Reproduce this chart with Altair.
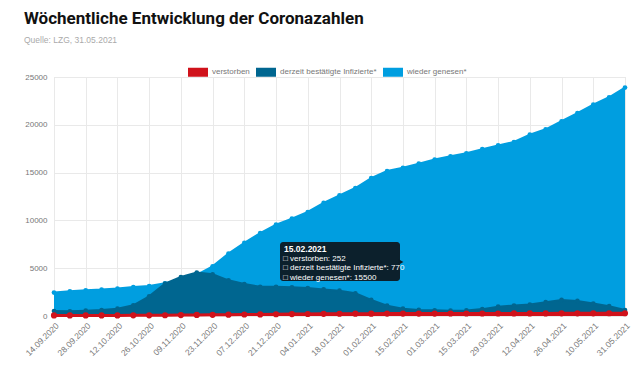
import altair as alt
import pandas as pd

dates = ["14.09.2020", "21.09.2020", "28.09.2020", "05.10.2020", "12.10.2020", "19.10.2020",
         "26.10.2020", "02.11.2020", "09.11.2020", "16.11.2020", "23.11.2020", "30.11.2020",
         "07.12.2020", "14.12.2020", "21.12.2020", "28.12.2020", "04.01.2021", "11.01.2021",
         "18.01.2021", "25.01.2021", "01.02.2021", "08.02.2021", "15.02.2021", "22.02.2021",
         "01.03.2021", "08.03.2021", "15.03.2021", "22.03.2021", "29.03.2021", "05.04.2021",
         "12.04.2021", "19.04.2021", "26.04.2021", "03.05.2021", "10.05.2021", "17.05.2021",
         "31.05.2021"]

verstorben = [60, 61, 62, 63, 64, 66, 70, 80, 92, 110, 125, 140, 155, 168, 183, 198, 212, 226,
              236, 243, 248, 250, 252, 254, 256, 258, 260, 262, 264, 267, 270, 273, 276, 279,
              282, 285, 288]

infizierte = [520, 490, 560, 630, 770, 1120, 2060, 3390, 4080, 4540, 4360, 3730, 3340, 3060,
              3060, 3000, 2920, 2780, 2650, 2380, 1680, 1080, 770, 640, 600, 560, 580, 720,
              980, 1100, 1200, 1450, 1680, 1580, 1300, 1030, 620]

genesen = [2450, 2580, 2690, 2760, 2870, 3030, 3140, 3420, 3750, 4300, 5200, 6530, 7640, 8680,
           9560, 10190, 10880, 11840, 12625, 13390, 14430, 15170, 15500, 15940, 16360, 16700,
           17020, 17450, 17850, 18200, 18970, 19530, 20370, 21230, 22110, 22880, 23890]

series_names = ["verstorben", "derzeit bestätigte Infizierte*", "wieder genesen*"]
series_colors = ["#d0121b", "#006690", "#009ee0"]
y_ticks = [0, 5000, 10000, 15000, 20000, 25000]
tick_labels = dates[::2]

tooltip_title = "15.02.2021"
tooltip_lines = ["□ verstorben: 252", "□ derzeit bestätigte Infizierte*: 770", "□ wieder genesen*: 15500"]

rows = []
for i, d in enumerate(dates):
    rows.append({"date": d, "series": series_names[0], "value": verstorben[i]})
    rows.append({"date": d, "series": series_names[1], "value": infizierte[i]})
    rows.append({"date": d, "series": series_names[2], "value": genesen[i]})
df = pd.DataFrame(rows)

FONT = "Liberation Sans"

x = alt.X("date:O", sort=dates, scale=alt.Scale(type="point", padding=0),
          axis=alt.Axis(values=tick_labels, labelAngle=-45, title=None, grid=True,
                        gridColor="#e9e9e9", domain=False, ticks=False, labelColor="#777",
                        labelFontSize=8.5, labelPadding=5, labelFont=FONT))
y = alt.Y("value:Q", stack=None, scale=alt.Scale(domain=[0, 25000]),
          axis=alt.Axis(values=y_ticks, format="d", title=None, domain=False, ticks=False,
                        gridColor="#e9e9e9", labelColor="#777", labelFontSize=8,
                        labelPadding=7, labelFont=FONT))
color = alt.Color("series:N", scale=alt.Scale(domain=series_names, range=series_colors),
                  legend=alt.Legend(title=None, orient="none", legendX=134, legendY=-15,
                                    direction="horizontal",
                                    symbolType="M-1,-0.45L1,-0.45L1,0.45L-1,0.45Z",
                                    symbolSize=400, symbolStrokeWidth=0, symbolOpacity=1,
                                    labelFontSize=8, labelColor="#777", labelFont=FONT,
                                    columnPadding=6, labelOffset=4))

layers = []
for name, psize, lw in [(series_names[2], 22, 2), (series_names[1], 22, 2), (series_names[0], 38, 3)]:
    base = alt.Chart(df).transform_filter(alt.datum.series == name)
    layers.append(base.mark_area(opacity=1).encode(x=x, y=y, color=color))
    layers.append(base.mark_line(strokeWidth=lw).encode(x=x, y=y, color=color))
    layers.append(base.mark_point(filled=True, opacity=1, size=psize).encode(x=x, y=y, color=color))

tip_box = alt.Chart(pd.DataFrame({"a": [0]})).mark_rect(
    color="#0c1c26", cornerRadius=3, opacity=0.97
).encode(x=alt.value(226), x2=alt.value(346), y=alt.value(165), y2=alt.value(204))
tip_arrow = alt.Chart(pd.DataFrame({"a": [0]})).mark_point(
    shape="triangle-right", filled=True, color="#0c1c26", size=30, opacity=1
).encode(x=alt.value(347), y=alt.value(185))
tip_title = alt.Chart(pd.DataFrame({"t": [tooltip_title]})).mark_text(
    align="left", baseline="middle", color="white", fontSize=8.5, fontWeight="bold", font=FONT
).encode(text="t:N", x=alt.value(230), y=alt.value(172))
tip_body = alt.Chart(pd.DataFrame({"t": ["\n".join(tooltip_lines)]})).mark_text(
    align="left", baseline="top", color="white", fontSize=8, font=FONT, lineBreak="\n",
    lineHeight=9.3
).encode(text="t:N", x=alt.value(229), y=alt.value(178))

chart = alt.layer(*layers, tip_box, tip_arrow, tip_title, tip_body).properties(
    width=571, height=239,
    autosize=alt.AutoSizeParams(type="none"),
    padding={"left": 46, "top": 69, "right": 7, "bottom": 43},
    title=alt.TitleParams(
        text="Wöchentliche Entwicklung der Coronazahlen",
        subtitle="Quelle: LZG, 31.05.2021",
        anchor="start", frame="group", dx=-30, offset=17,
        font="Roboto", fontSize=17, fontWeight="bold", color="#111111",
        subtitleFont=FONT, subtitleFontSize=8.5, subtitleColor="#aaaaaa", subtitlePadding=8,
    ),
).configure_view(stroke=None).configure(background="white")

chart.save("out.html", embed_options={"renderer": "svg", "actions": False})
